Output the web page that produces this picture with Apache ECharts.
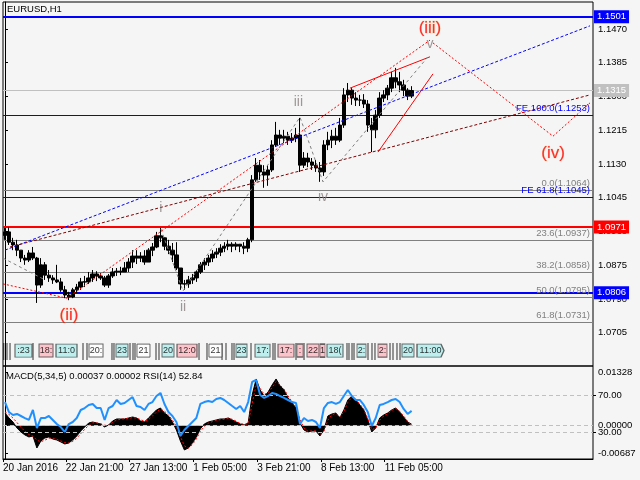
<!DOCTYPE html>
<html>
<head>
<meta charset="utf-8">
<title>EURUSD,H1</title>
<script src="https://cdn.jsdelivr.net/npm/echarts@6.0.0/dist/echarts.min.js"></script>
<style>
  html, body { margin: 0; padding: 0; background: #f5f5f5; }
  #mainPlot { width: 640px; height: 480px; }
</style>
</head>
<body>
<div id="mainPlot"></div>
<script>
// EURUSD, grouped into 4-hour bars (20 Jan 06:00 .. 11 Feb)
const firstOpen = 1.0950;
const highs = [1.0969,1.0971,1.0944,1.0939,1.0913,1.0901,1.0913,1.0921,1.0896,1.0893,
  1.0883,1.0863,1.0850,1.0876,1.0843,1.0823,1.0808,1.0818,1.0828,1.0843,
  1.0848,1.0858,1.0863,1.0860,1.0855,1.0848,1.0853,1.0868,1.0868,1.0871,
  1.0883,1.0893,1.0913,1.0913,1.0908,1.0913,1.0918,1.0931,1.0959,1.0969,
  1.0946,1.0939,1.0931,1.0933,1.0868,1.0838,1.0848,1.0853,1.0863,1.0883,
  1.0893,1.0901,1.0913,1.0918,1.0928,1.0933,1.0939,1.0933,1.0933,1.0928,
  1.0933,1.0944,1.1102,1.1145,1.1140,1.1127,1.1127,1.1190,1.1236,1.1216,
  1.1216,1.1211,1.1208,1.1221,1.1246,1.1160,1.1158,1.1145,1.1140,1.1135,
  1.1190,1.1211,1.1216,1.1221,1.1246,1.1321,1.1334,1.1321,1.1311,1.1304,
  1.1306,1.1291,1.1246,1.1266,1.1311,1.1316,1.1329,1.1362,1.1372,1.1362,
  1.1342,1.1321,1.1326];
const lows = [1.0939,1.0926,1.0913,1.0898,1.0883,1.0876,1.0883,1.0888,1.0780,1.0818,
  1.0838,1.0833,1.0828,1.0830,1.0808,1.0792,1.0787,1.0792,1.0805,1.0813,
  1.0820,1.0828,1.0833,1.0835,1.0838,1.0820,1.0818,1.0843,1.0848,1.0850,
  1.0858,1.0858,1.0868,1.0878,1.0883,1.0876,1.0883,1.0898,1.0918,1.0933,
  1.0913,1.0903,1.0883,1.0863,1.0813,1.0813,1.0818,1.0828,1.0833,1.0853,
  1.0863,1.0873,1.0883,1.0893,1.0898,1.0908,1.0913,1.0908,1.0913,1.0908,
  1.0903,1.0908,1.0933,1.1085,1.1090,1.1070,1.1075,1.1110,1.1173,1.1178,
  1.1183,1.1178,1.1183,1.1185,1.1110,1.1120,1.1122,1.1115,1.1110,1.1085,
  1.1100,1.1165,1.1170,1.1178,1.1185,1.1221,1.1286,1.1279,1.1276,1.1276,
  1.1271,1.1211,1.1160,1.1195,1.1246,1.1286,1.1291,1.1311,1.1321,1.1311,
  1.1301,1.1291,1.1296];
const closes = [1.0959,1.0933,1.0926,1.0913,1.0893,1.0888,1.0906,1.0893,1.0825,1.0876,
  1.0850,1.0843,1.0838,1.0833,1.0813,1.0800,1.0795,1.0813,1.0820,1.0833,
  1.0833,1.0843,1.0853,1.0848,1.0843,1.0825,1.0848,1.0858,1.0860,1.0858,
  1.0868,1.0883,1.0898,1.0893,1.0898,1.0883,1.0913,1.0921,1.0949,1.0944,
  1.0923,1.0913,1.0901,1.0868,1.0828,1.0828,1.0838,1.0843,1.0858,1.0876,
  1.0883,1.0893,1.0903,1.0908,1.0918,1.0923,1.0928,1.0923,1.0928,1.0923,
  1.0918,1.0939,1.1090,1.1127,1.1110,1.1102,1.1115,1.1178,1.1203,1.1195,
  1.1200,1.1190,1.1195,1.1203,1.1127,1.1145,1.1135,1.1127,1.1120,1.1110,
  1.1178,1.1190,1.1200,1.1190,1.1228,1.1304,1.1316,1.1296,1.1291,1.1291,
  1.1281,1.1228,1.1216,1.1253,1.1296,1.1304,1.1321,1.1347,1.1337,1.1329,
  1.1316,1.1301,1.1315];

// MACD(5,34,5) histogram, its signal line and RSI(14)
const macd = [0.00316,0.00192,0.00092,-0.00057,-0.00157,-0.00231,-0.00281,-0.00256,-0.00555,-0.00381,
  -0.00306,-0.00281,-0.00331,-0.00356,-0.00405,-0.00455,-0.00430,-0.00356,-0.00256,-0.00132,
  -0.00032,0.00067,0.00092,0.00067,0.00042,-0.00032,0.00017,0.00117,0.00167,0.00167,
  0.00167,0.00192,0.00216,0.00192,0.00117,0.00092,0.00192,0.00291,0.00391,0.00440,
  0.00316,0.00241,0.00092,-0.00107,-0.00381,-0.00604,-0.00555,-0.00430,-0.00281,-0.00082,
  0.00042,0.00092,0.00117,0.00142,0.00167,0.00167,0.00192,0.00142,0.00092,0.00042,
  0.00017,0.00067,0.00764,0.01162,0.00888,0.00739,0.00838,0.01012,0.01162,0.00988,
  0.00888,0.00689,0.00565,0.00440,0.00067,-0.00107,-0.00157,-0.00132,-0.00132,-0.00256,
  -0.00107,0.00241,0.00291,0.00316,0.00192,0.00391,0.00639,0.00739,0.00639,0.00515,
  0.00391,0.00142,-0.00157,-0.00057,0.00192,0.00266,0.00316,0.00391,0.00440,0.00341,
  0.00216,0.00092,0.00037];
const signal = [0.0034,0.0028,0.0019,0.0008,-0.0004,-0.0014,-0.0022,-0.0026,-0.0036,-0.0040,
  -0.0036,-0.0031,-0.0031,-0.0034,-0.0038,-0.0042,-0.0043,-0.0039,-0.0031,-0.0020,
  -0.0009,0.0001,0.0007,0.0007,0.0005,0.0001,0.0001,0.0008,0.0014,0.0016,
  0.0017,0.0018,0.0020,0.0019,0.0015,0.0011,0.0015,0.0024,0.0034,0.0041,
  0.0036,0.0027,0.0014,-0.0002,-0.0027,-0.0050,-0.0056,-0.0047,-0.0033,-0.0014,
  -0.0002,0.0006,0.0010,0.0013,0.0015,0.0016,0.0018,0.0016,0.0011,0.0006,
  0.0003,0.0005,0.0055,0.0102,0.0093,0.0078,0.0081,0.0095,0.0110,0.0101,
  0.0091,0.0074,0.0060,0.0047,0.0016,-0.0006,-0.0014,-0.0013,-0.0013,-0.0022,
  -0.0014,0.0014,0.0027,0.0031,0.0022,0.0035,0.0058,0.0071,0.0066,0.0054,
  0.0041,0.0018,-0.0010,-0.0006,0.0014,0.0024,0.0030,0.0038,0.0043,0.0036,
  0.0024,0.0011,0.00002];
const rsi = [62.4,51.6,48.4,49.5,47.3,45.1,43.0,53.8,34.3,45.1,
  45.1,47.3,43.0,38.6,35.4,30.0,38.6,40.8,45.1,53.8,
  55.9,59.2,60.3,55.9,55.9,43.0,55.9,58.1,64.6,60.3,
  61.4,64.6,67.8,58.1,57.0,53.8,60.3,62.4,68.9,72.2,
  60.3,51.6,47.3,40.8,25.7,32.2,36.5,40.8,45.1,60.3,
  62.4,63.5,62.4,65.7,66.8,64.6,61.4,58.1,54.9,58.1,
  51.6,62.4,84.1,86.2,70.0,66.8,68.9,72.2,71.1,68.9,
  66.8,64.6,62.4,61.4,38.6,45.1,41.9,43.0,40.8,34.3,
  55.9,61.4,62.4,60.3,62.4,68.9,75.4,68.9,64.6,64.6,
  59.2,51.6,36.5,45.1,59.2,60.3,62.4,64.6,65.7,62.4,
  54.9,49.5,52.84];

// axes
const slotCount = 148; // 4-hour slots across the whole window, incl. empty right margin
const priceTicks = [1.1470, 1.1385, 1.1300, 1.1215, 1.1130, 1.1045, 1.0960, 1.0875, 1.0790, 1.0705];
const macdTicks = [0.01328, 0, -0.00687];
const rsiTicks = [70, 30];
const dateTickHours = [0, 63, 127, 191, 255, 319, 383];
const dateTickLabels = ['20 Jan 2016', '22 Jan 21:00', '27 Jan 13:00', '1 Feb 05:00', '3 Feb 21:00', '8 Feb 13:00', '11 Feb 05:00'];

// horizontal levels
const tagLevels = [1.1501, 1.1315, 1.0971, 1.0806];
const fiboLevels = [1.1064, 1.0937, 1.0858, 1.0795, 1.0731];
const fiboNames = ['0.0', '23.6', '38.2', '50.0', '61.8'];
const feLevels = [1.1253, 1.1045];
const feNames = ['FE 100.0', 'FE 61.8'];

// trend lines, [slot, price]
const blueLine = [[0.0, 1.0913], [146.75, 1.1478]];
const maroonLine = [[1.26, 1.0921], [146.75, 1.1304]];
const redLeft = [[-0.5, 1.0828], [15.55, 1.0792]];
const redWave = [[15.55, 1.0792], [106.61, 1.1442]];
const redUpper = [[86.54, 1.1321], [106.61, 1.1400]];
const redLower = [[93.57, 1.1160], [107.36, 1.1357]];
const redProjection = [[107.36, 1.1435], [137.47, 1.1200], [146.75, 1.1284]];
const grayLeft = [[-0.5, 1.0893], [10.04, 1.0838]];
const grayWaves = [[39.13, 1.0966], [44.65, 1.0810], [74.0, 1.1248], [79.77, 1.1085], [106.11, 1.1400]];

// wave labels
const waveNames = ['(ii)', 'i', 'ii', 'iii', 'iv', 'v', '(iii)', '(iv)'];
const wavePos = [[16.06, 1.0748], [39.06, 1.1019], [44.65, 1.0770], [73.6, 1.1286],
  [79.77, 1.1047], [106.6, 1.1432], [106.6, 1.1472], [137.47, 1.1158]];

// session tags row above the time axis
const tagPos = [4.64, 10.29, 15.43, 22.83, 29.35, 34.74, 40.89, 45.66, 52.80, 59.33,
  64.60, 70.49, 74.00, 77.26, 79.65, 82.78, 89.43, 94.70, 101.09, 106.74];
const tagText = [':23', '18:', '11:0', '20:', '23', '21', '20', '12:0', '21', '23',
  '17:', '17:', ':', '22', '1', '18(', '2:', '2:', '20', '11:00'];
const tagKind = ['c', 'p', 'c', 'w', 'c', 'w', 'c', 'p', 'w', 'c',
  'c', 'p', 'p', 'p', 'p', 'c', 'c', 'p', 'c', 'a'];
const tagStrokes = [-0.3, 0.50, 1.26, 7.03, 19.57, 20.57, 26.84, 27.34, 31.36, 32.11, 32.61,
  37.88, 38.63, 48.67, 50.67, 54.44, 55.44, 56.94, 57.45, 61.71, 67.23, 67.73, 73.00, 75.01,
  85.79, 86.29, 87.05, 87.55, 91.06, 92.06, 92.81, 96.58, 97.33, 98.33, 99.09];

// ---- build ----
const FONT = 'Liberation Sans, Arial, sans-serif';
const slots = Array.from({ length: slotCount }, (_, i) => String(i));
const candles = closes.map((c, i) => [i === 0 ? firstOpen : closes[i - 1], c, lows[i], highs[i]]);
const dateTickVals = dateTickHours.map((h) => -0.5 + h / 4);
const tagWidth = [17, 14, 21, 14, 12, 13, 12, 20, 13, 11, 15, 16, 6, 12, 5, 16, 9, 9, 12, 27];
const tagFill = { c: '#afeeee', p: '#ffb6c1', w: '#ffffff', a: '#afeeee' };
const tagColors = ['#0000ff', '#c0c0c0', '#ff0000', '#0000ff'];
const tagWidths = [2, 1, 2, 2];

function trend(data, color, dash, width) {
  return {
    type: 'line', xAxisIndex: 1, yAxisIndex: 0, data: data, symbol: 'none', z: 12,
    silent: true, clip: false,
    lineStyle: { color: color, width: width || 1, type: dash }
  };
}

const levelLines = [];
tagLevels.forEach((v, i) => {
  levelLines.push({
    yAxis: v,
    lineStyle: { color: tagColors[i], width: tagWidths[i], type: 'solid' },
    label: {
      show: true, position: 'end', distance: 1, formatter: v.toFixed(4),
      backgroundColor: tagColors[i], color: '#fff', padding: [2, 3, 1, 3], fontSize: 9.5, fontFamily: FONT
    }
  });
});
fiboLevels.forEach((v, i) => {
  levelLines.push({
    yAxis: v,
    lineStyle: { color: '#808080', width: 1, type: 'solid' },
    label: {
      show: true, position: 'insideEndTop', distance: [3, 2],
      formatter: fiboNames[i] + '(' + v.toFixed(4) + ')', color: '#808080', fontSize: 9.5, fontFamily: FONT
    }
  });
});
feLevels.forEach((v, i) => {
  levelLines.push({
    yAxis: v,
    lineStyle: { color: '#0000ff', width: 1, type: 'solid' },
    label: {
      show: true, position: 'insideEndTop', distance: [3, 2],
      formatter: feNames[i] + '(' + v.toFixed(4) + ')', color: '#0000ff', fontSize: 9.5, fontFamily: FONT
    }
  });
});

const chart = echarts.init(document.getElementById('mainPlot'));
const last = closes.length - 1;

const option = {
  animation: false,
  backgroundColor: '#f5f5f5',
  textStyle: { fontFamily: FONT },
  grid: [
    { left: 3, top: 2, right: 47, height: 364, show: true, borderColor: '#000', borderWidth: 1, backgroundColor: '#f5f5f5' },
    { left: 3, top: 366, right: 47, height: 93, show: true, borderColor: '#000', borderWidth: 1 }
  ],
  graphic: [
    { type: 'text', left: 7, top: 4, z: 50, style: { text: 'EURUSD,H1', fontSize: 9.5, fill: '#000', fontFamily: FONT } },
    {
      type: 'text', left: 6, top: 371, z: 50,
      style: {
        text: 'MACD(5,34,5) ' + macd[last].toFixed(5) + ' ' + signal[last].toFixed(5) + ' RSI(14) ' + rsi[last].toFixed(2),
        fontSize: 9.5, fill: '#000', fontFamily: FONT
      }
    }
  ],
  xAxis: [
    { type: 'category', gridIndex: 0, data: slots, show: false },
    { type: 'value', gridIndex: 0, min: -0.5, max: slotCount - 0.5, show: false },
    { type: 'category', gridIndex: 1, data: slots, show: false },
    {
      type: 'value', gridIndex: 1, min: -0.5, max: slotCount - 0.5, position: 'bottom',
      axisLine: { show: true, onZero: false, lineStyle: { color: '#000' } },
      axisTick: { show: true, length: 3, customValues: dateTickVals, lineStyle: { color: '#000' } },
      axisLabel: {
        customValues: dateTickVals, align: 'left', margin: 4, fontSize: 10, color: '#000',
        showMinLabel: true, showMaxLabel: true,
        formatter: (v) => {
          const k = dateTickVals.findIndex((t) => Math.abs(t - v) < 1e-6);
          return k < 0 ? '' : dateTickLabels[k];
        }
      },
      splitLine: { show: false }
    }
  ],
  yAxis: [
    {
      type: 'value', gridIndex: 0, position: 'right', min: 1.06212, max: 1.1538,
      axisLine: { show: true, lineStyle: { color: '#000' } },
      axisTick: { show: true, length: 3, customValues: priceTicks, lineStyle: { color: '#000' } },
      axisLabel: { customValues: priceTicks, margin: 5, fontSize: 9.5, color: '#000', formatter: (v) => v.toFixed(4) },
      splitLine: { show: false }
    },
    {
      type: 'value', gridIndex: 1, position: 'right', min: -0.008288, max: 0.014847,
      axisLine: { show: true, lineStyle: { color: '#000' } },
      axisTick: { show: true, length: 3, customValues: macdTicks, lineStyle: { color: '#000' } },
      axisLabel: { customValues: macdTicks, margin: 5, fontSize: 9.5, color: '#000', formatter: (v) => v.toFixed(5) },
      splitLine: { show: false }
    },
    {
      type: 'value', gridIndex: 1, position: 'right', min: 0.81, max: 101.35,
      axisLine: { show: false },
      axisTick: { show: true, length: 3, customValues: rsiTicks, lineStyle: { color: '#000' } },
      axisLabel: { customValues: rsiTicks, margin: 5, fontSize: 9.5, color: '#000', formatter: (v) => v.toFixed(2) },
      splitLine: { show: false }
    }
  ],
  series: [
    {
      // horizontal levels, drawn under the bars (the carrier line itself is invisible)
      type: 'line', xAxisIndex: 0, yAxisIndex: 0, data: closes, symbol: 'none', z: 1, clip: false, silent: true,
      lineStyle: { opacity: 0 },
      markLine: { symbol: 'none', silent: true, z: 1, precision: 5, animation: false, data: levelLines }
    },
    {
      type: 'candlestick', xAxisIndex: 0, yAxisIndex: 0, data: candles, barWidth: '100%', z: 10,
      itemStyle: { color: '#000', color0: '#000', borderColor: '#000', borderColor0: '#000', borderWidth: 1 }
    },
    trend(blueLine, '#0000ff', [3, 2]),
    trend(maroonLine, '#800000', [3, 2]),
    trend(redLeft, '#ff0000', [2, 2]),
    trend(redWave, '#ff0000', [2, 2]),
    trend(redUpper, '#ff0000', 'solid'),
    trend(redLower, '#ff0000', 'solid'),
    trend(redProjection, '#ff0000', [2, 2]),
    trend(grayLeft, '#808080', [3, 3]),
    trend(grayWaves, '#808080', [3, 3]),
    {
      type: 'scatter', xAxisIndex: 1, yAxisIndex: 0, z: 15, silent: true, symbolSize: 1,
      itemStyle: { color: 'rgba(0,0,0,0)' },
      data: waveNames.map((n, i) => ({
        value: wavePos[i],
        label: {
          show: true, position: 'inside', formatter: n, fontFamily: FONT,
          fontSize: n.charAt(0) === '(' ? 17 : 14,
          color: n.charAt(0) === '(' ? '#ff0000' : '#8a7f80',
          textBorderColor: n.charAt(0) === '(' ? 'rgba(255,120,0,0.5)' : 'rgba(0,0,0,0)',
          textBorderWidth: n.charAt(0) === '(' ? 0.6 : 0
        }
      }))
    },
    {
      type: 'scatter', xAxisIndex: 1, yAxisIndex: 0, z: 11, silent: true,
      symbol: 'rect', symbolSize: [1, 17], itemStyle: { color: '#000' },
      data: tagStrokes.map((x) => [x, 1.0658])
    },
    {
      type: 'scatter', xAxisIndex: 1, yAxisIndex: 0, z: 11, silent: true,
      data: tagPos.map((x, i) => ({
        value: [x, 1.0660],
        symbol: tagKind[i] === 'a' ? 'path://M0,0L24,0L27,6.5L24,13L0,13Z' : 'rect',
        symbolSize: [tagWidth[i], 13],
        itemStyle: { color: tagFill[tagKind[i]], borderColor: '#444', borderWidth: 1 },
        label: { show: true, position: 'inside', formatter: tagText[i], fontSize: 9, color: '#000', fontFamily: FONT }
      }))
    },
    {
      // MACD histogram as a solid black area down to zero
      type: 'line', xAxisIndex: 2, yAxisIndex: 1, data: macd, symbol: 'none', z: 3,
      lineStyle: { color: '#000', width: 1 },
      areaStyle: { color: '#000', opacity: 1 },
      markLine: {
        symbol: 'none', silent: true, label: { show: false },
        lineStyle: { color: '#c0c0c0', type: [4, 3], width: 1 },
        data: [{ yAxis: 0 }]
      }
    },
    {
      type: 'line', xAxisIndex: 2, yAxisIndex: 1, data: signal, symbol: 'none', z: 4,
      lineStyle: { color: '#ff0000', width: 1, type: [2, 2] }
    },
    {
      type: 'line', xAxisIndex: 2, yAxisIndex: 2, data: rsi, symbol: 'none', z: 5,
      lineStyle: { color: '#1e90ff', width: 2 },
      markLine: {
        symbol: 'none', silent: true, label: { show: false },
        lineStyle: { color: '#c0c0c0', type: [4, 3], width: 1 },
        data: rsiTicks.map((v) => ({ yAxis: v }))
      }
    }
  ]
};

chart.setOption(option);
window.addEventListener('resize', () => {
  chart.resize();
});
</script>
</body>
</html>
